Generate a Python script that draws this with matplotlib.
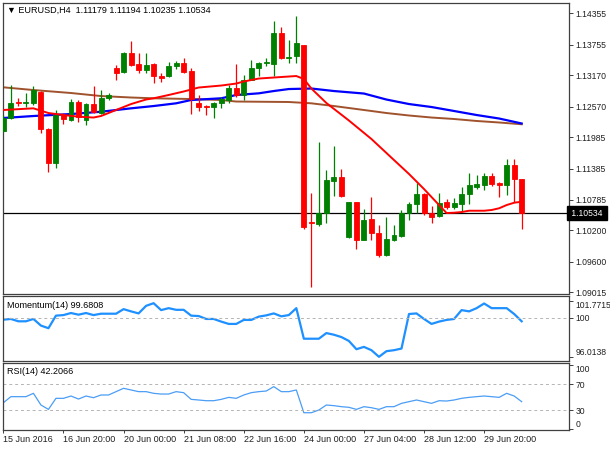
import matplotlib
matplotlib.use("Agg")
import matplotlib.pyplot as plt
import matplotlib.transforms as mtransforms

plt.rcParams['font.family'] = ['Liberation Sans', 'DejaVu Sans']

# EURUSD H4 candles, 15 Jun - 30 Jun 2016
opens = [1.12103, 1.12352, 1.12658, 1.12639, 1.12639, 1.12849, 1.12141, 1.11491, 1.12409, 1.12313,
         1.12658, 1.12313, 1.12619, 1.12447, 1.12734, 1.13308, 1.13232, 1.13595, 1.13385, 1.13270,
         1.13385, 1.13155, 1.13155, 1.13346, 1.13404, 1.13251, 1.12639, 1.12581, 1.12562, 1.12639,
         1.12696, 1.12926, 1.12792, 1.13079, 1.13308, 1.13404, 1.13385, 1.13978, 1.13499, 1.13538,
         1.13748, 1.10362, 1.10324, 1.10534, 1.11146, 1.11223, 1.10075, 1.10745, 1.10018, 1.10420,
         1.10152, 1.09731, 1.10018, 1.10094, 1.10534, 1.10706, 1.10898, 1.10534, 1.10477, 1.10745,
         1.10649, 1.10706, 1.10898, 1.11032, 1.11070, 1.11242, 1.11108, 1.11070, 1.11453, 1.11179]
highs = [1.12409, 1.12983, 1.12734, 1.12830, 1.12964, 1.12868, 1.12160, 1.12505, 1.12447, 1.12715,
         1.12696, 1.12639, 1.12964, 1.12887, 1.12830, 1.13366, 1.13614, 1.13825, 1.13595, 1.13595,
         1.13404, 1.13213, 1.13423, 1.13442, 1.13499, 1.13308, 1.12792, 1.12600, 1.12658, 1.12753,
         1.12983, 1.13385, 1.13174, 1.13461, 1.13423, 1.13499, 1.14207, 1.14092, 1.13844, 1.14303,
         1.13748, 1.10917, 1.11893, 1.11357, 1.11816, 1.11376, 1.10745, 1.10745, 1.10611, 1.10840,
         1.10305, 1.10458, 1.10305, 1.10592, 1.10745, 1.11108, 1.10917, 1.10668, 1.10917, 1.10802,
         1.10821, 1.11032, 1.11300, 1.11261, 1.11300, 1.11300, 1.11127, 1.11567, 1.11567, 1.11194]
lows = [1.12084, 1.12333, 1.12581, 1.12562, 1.12600, 1.12065, 1.11319, 1.11395, 1.12237, 1.12295,
        1.12275, 1.12218, 1.12447, 1.12428, 1.12696, 1.13079, 1.13213, 1.13346, 1.13213, 1.13213,
        1.13021, 1.13040, 1.13136, 1.13289, 1.13213, 1.12428, 1.12486, 1.12409, 1.12352, 1.12543,
        1.12639, 1.12753, 1.12696, 1.13079, 1.13155, 1.13346, 1.13155, 1.13480, 1.13404, 1.13404,
        1.10228, 1.09119, 1.10286, 1.10343, 1.10860, 1.10840, 1.10056, 1.09846, 1.10018, 1.10018,
        1.09693, 1.09712, 1.09999, 1.10075, 1.10400, 1.10534, 1.10496, 1.10343, 1.10458, 1.10611,
        1.10611, 1.10553, 1.10706, 1.10993, 1.10974, 1.11051, 1.10840, 1.10879, 1.10745, 1.10235]
closes = [1.12352, 1.12639, 1.12639, 1.12658, 1.12887, 1.12141, 1.11491, 1.12409, 1.12333, 1.12658,
          1.12371, 1.12619, 1.12466, 1.12734, 1.12792, 1.13213, 1.13595, 1.13366, 1.13270, 1.13366,
          1.13155, 1.13117, 1.13346, 1.13404, 1.13232, 1.12715, 1.12562, 1.12562, 1.12639, 1.12715,
          1.12926, 1.12792, 1.13079, 1.13308, 1.13404, 1.13423, 1.13978, 1.13499, 1.13519, 1.13786,
          1.10266, 1.10343, 1.10534, 1.11166, 1.11223, 1.10860, 1.10745, 1.10018, 1.10400, 1.10152,
          1.09731, 1.10037, 1.10113, 1.10534, 1.10706, 1.10898, 1.10534, 1.10458, 1.10726, 1.10649,
          1.10726, 1.10898, 1.11070, 1.11089, 1.11242, 1.11089, 1.11070, 1.11453, 1.11179, 1.10534]

# moving averages, sampled at bar indices
ma_fast_idx = [0, 4, 6, 8, 10, 12, 13, 15, 17, 19, 20, 22, 24, 25, 26, 29, 31, 32, 34, 37, 39, 40, 41,
               43, 46, 49, 52, 54, 56, 58, 59, 60, 61, 62, 64, 65, 66, 67, 68, 69]
ma_fast = [1.12505, 1.12537, 1.12447, 1.12409, 1.12377, 1.12361, 1.12390, 1.12505, 1.12619, 1.12706,
           1.12729, 1.12792, 1.12859, 1.12897, 1.12935, 1.12973, 1.13011, 1.13050, 1.13107, 1.13136,
           1.13155, 1.13098, 1.12916, 1.12639, 1.12304, 1.11950, 1.11548, 1.11281, 1.10993, 1.10687,
           1.10534, 1.10540, 1.10553, 1.10578, 1.10578, 1.10592, 1.10625, 1.10687, 1.10731, 1.10751]
ma_mid_idx = [0, 4, 9, 13, 17, 20, 23, 25, 29, 31, 34, 36, 38, 41, 44, 48, 51, 54, 57, 60, 63, 66, 69]
ma_mid = [1.12352, 1.12390, 1.12428, 1.12472, 1.12537, 1.12581, 1.12633, 1.12696, 1.12729, 1.12792,
          1.12824, 1.12868, 1.12906, 1.12916, 1.12868, 1.12820, 1.12705, 1.12619, 1.12562, 1.12486,
          1.12409, 1.12342, 1.12247]
ma_slow_idx = [0, 4, 9, 13, 17, 20, 25, 29, 31, 38, 41, 44, 46, 49, 51, 54, 57, 60, 63, 66, 69]
ma_slow = [1.12939, 1.12887, 1.12830, 1.12772, 1.12744, 1.12729, 1.12715, 1.12696, 1.12667, 1.12658,
           1.12633, 1.12581, 1.12543, 1.12486, 1.12447, 1.12400, 1.12361, 1.12333, 1.12295, 1.12266,
           1.12232]

momentum = [99.83, 99.90, 99.66, 99.66, 99.90, 99.22, 98.95, 100.24, 100.30, 100.51,
            100.34, 100.51, 100.30, 100.44, 100.44, 100.44, 100.91, 100.68, 100.47, 101.25,
            101.52, 100.81, 101.01, 100.84, 100.84, 100.24, 100.20, 99.90, 99.90, 99.63,
            99.39, 99.39, 99.80, 99.80, 100.14, 100.27, 100.47, 100.17, 100.30, 101.01,
            97.87, 97.87, 97.87, 98.45, 98.28, 98.04, 97.64, 96.79, 97.03, 96.69,
            96.01, 96.59, 96.69, 96.86, 100.41, 100.47, 99.90, 99.39, 99.63, 99.80,
            99.90, 100.81, 100.68, 101.01, 101.49, 101.01, 101.01, 101.01, 100.41, 99.66]
rsi = [41.4, 50.8, 50.8, 50.8, 56.0, 37.8, 31.0, 48.2, 48.2, 51.8,
       47.1, 51.8, 49.2, 53.4, 53.4, 58.6, 63.8, 61.2, 58.6, 58.6,
       56.0, 54.9, 54.9, 58.6, 57.0, 46.6, 45.6, 44.5, 44.5, 46.6,
       49.7, 48.2, 53.4, 57.0, 58.6, 59.6, 66.4, 58.6, 58.6, 61.2,
       25.8, 25.8, 30.0, 37.8, 36.8, 35.2, 34.2, 31.0, 35.2, 33.6,
       31.0, 35.2, 35.2, 40.4, 43.0, 45.6, 43.0, 40.4, 44.5, 44.0,
       45.6, 48.2, 49.7, 50.8, 51.8, 50.8, 49.7, 56.0, 51.8, 43.0]

date_idx = [0, 8, 16, 24, 32, 40, 48, 56, 64]
date_labels = ['15 Jun 2016', '16 Jun 20:00', '20 Jun 00:00', '21 Jun 08:00', '22 Jun 16:00',
               '24 Jun 00:00', '27 Jun 04:00', '28 Jun 12:00', '29 Jun 20:00']
price_ticks = [1.14355, 1.13755, 1.13170, 1.12570, 1.11985, 1.11385, 1.10785, 1.10200, 1.09600, 1.09015]
mom_ticks = [101.7715, 100, 96.0138]
rsi_ticks = [100, 70, 30, 0]
last_price = 1.10534

W, H = 610, 450
fig = plt.figure(figsize=(6.1, 4.5), dpi=100)
fs = 6.2


def add_panel(top, bottom):
    a = fig.add_axes([3 / W, 1 - bottom / H, 566 / W, (bottom - top) / H])
    a.set_xlim(-0.05, 75.3)
    for s in a.spines.values():
        s.set_color('#404040')
        s.set_linewidth(0.9)
    a.yaxis.tick_right()
    a.tick_params(axis='y', length=3, width=0.6, pad=1.5, labelsize=fs, colors='#202020')
    a.tick_params(axis='x', length=0, labelbottom=False)
    return a


ax = add_panel(3, 294)
ax_m = add_panel(296, 361)
ax_r = add_panel(363, 430)

# candles
for i in range(len(opens)):
    up = closes[i] >= opens[i]
    col = '#008000' if up else '#ff0000'
    ax.vlines(i, lows[i], highs[i], color=col, linewidth=0.9, zorder=3)
    ax.bar(i, abs(closes[i] - opens[i]), bottom=min(opens[i], closes[i]), width=0.66,
           color=col, edgecolor=col, linewidth=0.6, zorder=4)

ax.plot(ma_slow_idx, ma_slow, color='#a0522d', linewidth=1.4, zorder=2)
ax.plot(ma_mid_idx, ma_mid, color='#0000ff', linewidth=1.6, zorder=2)
ax.plot(ma_fast_idx, ma_fast, color='#ff0000', linewidth=1.4, zorder=5)
ax.axhline(last_price, color='black', linewidth=0.9, zorder=1)

ax.set_ylim(1.08985, 1.14552)
ax.set_yticks(price_ticks)
ax.set_yticklabels(['%.5f' % v for v in price_ticks])
trans = mtransforms.blended_transform_factory(ax.transAxes, ax.transData)
ax.text(1.0, last_price, ' %.5f ' % last_price, transform=trans, ha='left', va='center',
        fontsize=fs, color='white', zorder=10,
        bbox=dict(boxstyle='square,pad=0.25', facecolor='black', edgecolor='black'))
fig.text(7 / W, 1 - 10 / H, '\u25bc EURUSD,H4  1.11179 1.11194 1.10235 1.10534',
         fontsize=6.5, va='center', ha='left', color='black')

# momentum
ax_m.plot(range(len(momentum)), momentum, color='#1e90ff', linewidth=1.6)
ax_m.axhline(100, color='#b4b4b4', linewidth=0.7, linestyle=(0, (3, 3)))
ax_m.set_ylim(95.58, 102.26)
ax_m.set_yticks(mom_ticks)
ax_m.set_yticklabels(['101.7715', '100', '96.0138'])
ml = ax_m.get_yticklabels()
ml[0].set_va('top')
ml[2].set_va('bottom')
fig.text(7 / W, 1 - 305 / H, 'Momentum(14) 99.6808', fontsize=6.5, va='center', ha='left')

# RSI
ax_r.plot(range(len(rsi)), rsi, color='#4b9df5', linewidth=0.9)
for lvl in (70, 30):
    ax_r.axhline(lvl, color='#b4b4b4', linewidth=0.7, linestyle=(0, (3, 3)))
ax_r.set_ylim(-1.1, 103.2)
ax_r.set_yticks(rsi_ticks)
ax_r.set_yticklabels([str(v) for v in rsi_ticks])
rl = ax_r.get_yticklabels()
rl[0].set_va('top')
rl[3].set_va('bottom')
fig.text(7 / W, 1 - 372 / H, 'RSI(14) 42.2066', fontsize=6.5, va='center', ha='left')

ax_r.set_xticks(date_idx)
ax_r.set_xticklabels(date_labels, ha='left')
ax_r.tick_params(axis='x', length=2, width=0.6, pad=1.5, labelsize=6.5, labelbottom=True,
                 colors='#202020')

fig.savefig('out.png', dpi=100, facecolor='white')
